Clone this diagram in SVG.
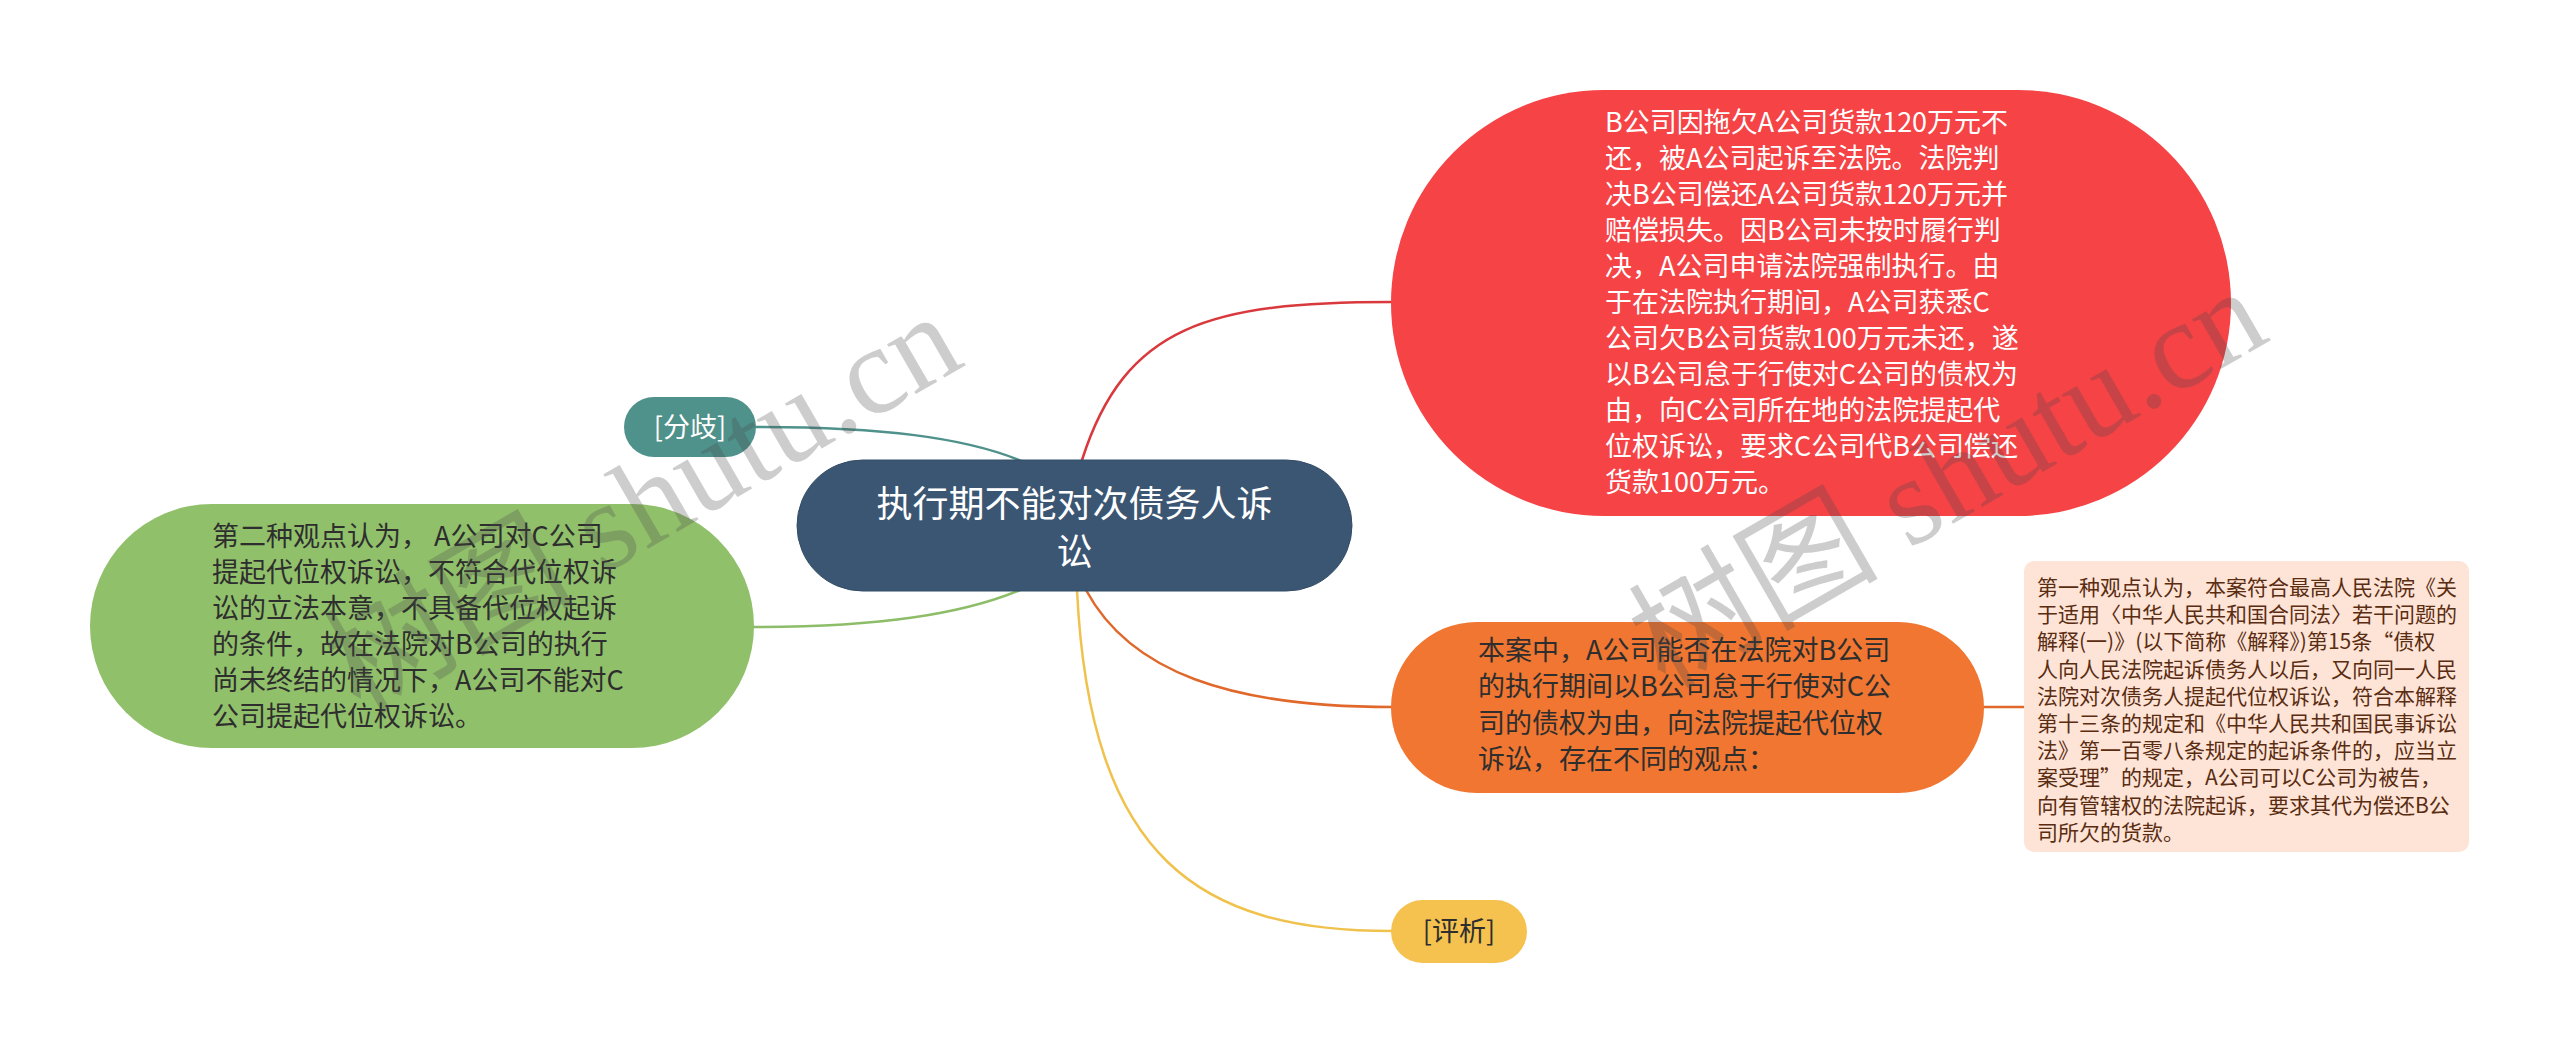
<svg xmlns="http://www.w3.org/2000/svg" width="2560" height="1053" viewBox="0 0 2560 1053">
<style>
.t{font-family:"Noto Sans CJK SC","Microsoft YaHei","Noto Sans",sans-serif;}
.b{font-size:27px;}
.w{fill:#ffffff;}
.d{fill:#2e2e2e;}
.c{fill:none;stroke-width:2.5;stroke-linecap:round;}
.wm{font-family:"Liberation Serif","Noto Sans CJK SC",serif;font-size:125px;fill:#4a4a4a;opacity:0.27;}
</style>
<rect width="2560" height="1053" fill="#ffffff"/>
<g id="connectors">
<path class="c" stroke="#d9393c" d="M1082 460 C1125 325,1210 302,1392 302"/>
<path class="c" stroke="#e0682b" d="M1086 590 C1130 672,1230 707,1392 707"/>
<path class="c" stroke="#f0c24d" d="M1077 590 C1090 860,1200 931,1392 931"/>
<path class="c" stroke="#4f918b" d="M756 427 C880 427,965 437,1024 462"/>
<path class="c" stroke="#8dbd68" d="M754 627 C880 627,962 614,1020 590"/>
<path class="c" stroke="#e0682b" d="M1984 707 L2024 707"/>
</g>
<g id="center">
<rect x="797" y="460" width="555" height="131" rx="65.5" fill="#3b5673" stroke="#334c66" stroke-width="1"/>
<text class="t w" x="1074.5" y="517" font-size="36" text-anchor="middle">执行期不能对次债务人诉</text>
<text class="t w" x="1074.5" y="565" font-size="36" text-anchor="middle">讼</text>
</g>
<g id="node-red">
<rect x="1391" y="90" width="840" height="426" rx="213" fill="#f54346"/>
<text class="t b w">
<tspan x="1605" y="132">B公司因拖欠A公司货款120万元不</tspan>
<tspan x="1605" y="168">还，被A公司起诉至法院。法院判</tspan>
<tspan x="1605" y="204">决B公司偿还A公司货款120万元并</tspan>
<tspan x="1605" y="240">赔偿损失。因B公司未按时履行判</tspan>
<tspan x="1605" y="276">决，A公司申请法院强制执行。由</tspan>
<tspan x="1605" y="312">于在法院执行期间，A公司获悉C</tspan>
<tspan x="1605" y="348">公司欠B公司货款100万元未还，遂</tspan>
<tspan x="1605" y="384">以B公司怠于行使对C公司的债权为</tspan>
<tspan x="1605" y="420">由，向C公司所在地的法院提起代</tspan>
<tspan x="1605" y="456">位权诉讼，要求C公司代B公司偿还</tspan>
<tspan x="1605" y="492">货款100万元。</tspan>
</text>
</g>
<g id="node-orange">
<rect x="1391" y="622" width="593" height="171" rx="85.5" fill="#f07631"/>
<text class="t b d">
<tspan x="1478" y="659.5">本案中，A公司能否在法院对B公司</tspan>
<tspan x="1478" y="696">的执行期间以B公司怠于行使对C公</tspan>
<tspan x="1478" y="732.5">司的债权为由，向法院提起代位权</tspan>
<tspan x="1478" y="769">诉讼，存在不同的观点：</tspan>
</text>
</g>
<g id="node-first">
<rect x="2024" y="561" width="445" height="291" rx="10" fill="#fde4d6"/>
<text class="t" font-size="21" fill="#5a2c12">
<tspan x="2037" y="595">第一种观点认为，本案符合最高人民法院《关</tspan>
<tspan x="2037" y="622.2">于适用〈中华人民共和国合同法〉若干问题的</tspan>
<tspan x="2037" y="649.4">解释(一)》(以下简称《解释》)第15条“债权</tspan>
<tspan x="2037" y="676.6">人向人民法院起诉债务人以后，又向同一人民</tspan>
<tspan x="2037" y="703.8">法院对次债务人提起代位权诉讼，符合本解释</tspan>
<tspan x="2037" y="731">第十三条的规定和《中华人民共和国民事诉讼</tspan>
<tspan x="2037" y="758.2">法》第一百零八条规定的起诉条件的，应当立</tspan>
<tspan x="2037" y="785.4">案受理”的规定，A公司可以C公司为被告，</tspan>
<tspan x="2037" y="812.6">向有管辖权的法院起诉，要求其代为偿还B公</tspan>
<tspan x="2037" y="839.8">司所欠的货款。</tspan>
</text>
</g>
<g id="node-green">
<rect x="90" y="504" width="664" height="244" rx="122" fill="#91c06b"/>
<text class="t b d">
<tspan x="212" y="545.5">第二种观点认为， A公司对C公司</tspan>
<tspan x="212" y="581.5">提起代位权诉讼，不符合代位权诉</tspan>
<tspan x="212" y="617.5">讼的立法本意，不具备代位权起诉</tspan>
<tspan x="212" y="653.5">的条件，故在法院对B公司的执行</tspan>
<tspan x="212" y="689.5">尚未终结的情况下，A公司不能对C</tspan>
<tspan x="212" y="725.5">公司提起代位权诉讼。</tspan>
</text>
</g>
<g id="tag-fenqi">
<rect x="624" y="397" width="132" height="60" rx="30" fill="#4f918b"/>
<text class="t b w" x="690" y="436.5" text-anchor="middle">[分歧]</text>
</g>
<g id="tag-pingxi">
<rect x="1391" y="900" width="136" height="63" rx="31.5" fill="#f5c250"/>
<text class="t b d" x="1459" y="941" text-anchor="middle">[评析]</text>
</g>
<g id="watermarks">
<text class="wm" transform="translate(360,715) rotate(-30)">树图 shutu.cn</text>
<text class="wm" transform="translate(1665,690) rotate(-30)">树图 shutu.cn</text>
</g>
</svg>
